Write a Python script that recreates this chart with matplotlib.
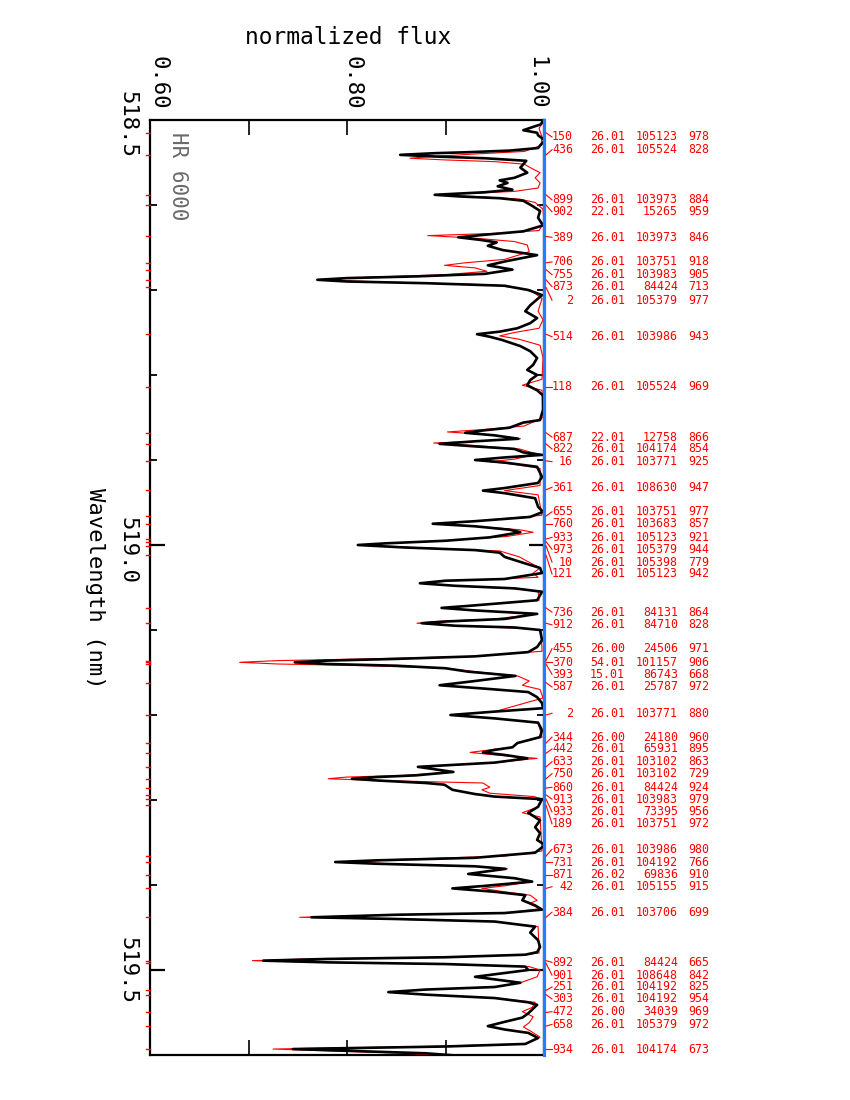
import matplotlib
matplotlib.use('Agg')
import matplotlib.pyplot as plt
from matplotlib.lines import Line2D
from matplotlib.transforms import blended_transform_factory

# ---------------- data ----------------
obs_wl = [518.500, 518.505, 518.512, 518.515, 518.518, 518.524, 518.530, 518.533, 518.536, 518.538,
          518.539, 518.541, 518.543, 518.545, 518.548, 518.556, 518.562, 518.568, 518.571, 518.574,
          518.578, 518.582, 518.585, 518.587, 518.588, 518.590, 518.592, 518.595, 518.601, 518.607,
          518.615, 518.624, 518.631, 518.635, 518.638, 518.641, 518.644, 518.648, 518.653, 518.659,
          518.666, 518.671, 518.676, 518.681, 518.684, 518.686, 518.688, 518.690, 518.692, 518.695,
          518.700, 518.706, 518.718, 518.725, 518.733, 518.739, 518.745, 518.749, 518.752, 518.755,
          518.759, 518.766, 518.772, 518.780, 518.788, 518.794, 518.800, 518.806, 518.812, 518.818,
          518.824, 518.841, 518.853, 518.856, 518.862, 518.865, 518.868, 518.871, 518.875, 518.878,
          518.881, 518.884, 518.887, 518.891, 518.894, 518.897, 518.900, 518.903, 518.908, 518.920,
          518.927, 518.933, 518.936, 518.939, 518.945, 518.955, 518.961, 518.967, 518.972, 518.975,
          518.978, 518.982, 518.985, 518.991, 518.995, 518.998, 519.000, 519.003, 519.006, 519.009,
          519.014, 519.021, 519.027, 519.033, 519.040, 519.042, 519.045, 519.048, 519.051, 519.055,
          519.065, 519.071, 519.074, 519.077, 519.081, 519.087, 519.090, 519.092, 519.095, 519.097,
          519.100, 519.112, 519.120, 519.126, 519.131, 519.134, 519.136, 519.138, 519.140, 519.142,
          519.145, 519.149, 519.154, 519.160, 519.165, 519.169, 519.173, 519.179, 519.186, 519.192,
          519.196, 519.200, 519.204, 519.209, 519.218, 519.226, 519.233, 519.238, 519.241, 519.244,
          519.247, 519.251, 519.256, 519.261, 519.264, 519.267, 519.271, 519.273, 519.275, 519.277,
          519.280, 519.282, 519.288, 519.293, 519.296, 519.299, 519.308, 519.315, 519.324, 519.332,
          519.339, 519.347, 519.353, 519.362, 519.368, 519.371, 519.373, 519.375, 519.378, 519.381,
          519.387, 519.392, 519.396, 519.401, 519.404, 519.408, 519.412, 519.418, 519.424, 519.429,
          519.433, 519.435, 519.438, 519.440, 519.443, 519.449, 519.456, 519.465, 519.473, 519.479,
          519.482, 519.485, 519.487, 519.489, 519.491, 519.493, 519.496, 519.500, 519.505, 519.508,
          519.511, 519.515, 519.520, 519.523, 519.526, 519.529, 519.533, 519.538, 519.541, 519.551,
          519.556, 519.561, 519.566, 519.570, 519.574, 519.580, 519.587, 519.590, 519.592, 519.593,
          519.595, 519.598, 519.604]
obs_flux = [0.999, 0.997, 0.979, 0.993, 0.994, 1.001, 0.996, 0.994, 0.965, 0.920,
            0.890, 0.854, 0.890, 0.940, 0.982, 0.976, 0.983, 0.970, 0.955, 0.963,
            0.953, 0.968, 0.940, 0.905, 0.889, 0.915, 0.955, 0.979, 0.988, 0.996,
            0.994, 0.999, 0.979, 0.940, 0.913, 0.935, 0.952, 0.943, 0.958, 0.993,
            0.962, 0.943, 0.968, 0.940, 0.870, 0.800, 0.770, 0.800, 0.880, 0.960,
            0.984, 0.998, 0.986, 0.981, 0.993, 0.986, 0.973, 0.955, 0.932, 0.945,
            0.958, 0.976, 0.986, 0.993, 0.989, 0.983, 0.993, 0.986, 0.983, 0.993,
            0.999, 0.999, 0.996, 0.979, 0.965, 0.940, 0.920, 0.950, 0.974, 0.930,
            0.894, 0.930, 0.970, 0.979, 0.998, 0.960, 0.930, 0.960, 0.993, 0.998,
            0.994, 0.960, 0.938, 0.960, 0.991, 0.994, 0.999, 0.986, 0.930, 0.887,
            0.930, 0.965, 0.976, 0.945, 0.900, 0.840, 0.811, 0.860, 0.930, 0.955,
            0.960, 0.979, 0.996, 0.998, 0.960, 0.900, 0.874, 0.910, 0.970, 0.998,
            0.993, 0.930, 0.896, 0.930, 0.993, 0.960, 0.900, 0.876, 0.910, 0.970,
            0.996, 0.998, 0.993, 0.984, 0.930, 0.850, 0.780, 0.747, 0.780, 0.850,
            0.900, 0.923, 0.971, 0.930, 0.894, 0.940, 0.984, 0.993, 0.998, 0.999,
            0.950, 0.905, 0.950, 0.994, 0.998, 0.996, 0.973, 0.968, 0.950, 0.938,
            0.960, 0.983, 0.950, 0.872, 0.890, 0.908, 0.870, 0.830, 0.805, 0.830,
            0.880, 0.899, 0.907, 0.930, 0.950, 0.998, 0.994, 0.984, 0.996, 0.991,
            0.996, 0.993, 1.001, 0.991, 0.930, 0.830, 0.788, 0.830, 0.930, 0.961,
            0.923, 0.970, 0.988, 0.940, 0.907, 0.950, 0.981, 0.978, 0.991, 0.998,
            0.960, 0.850, 0.764, 0.850, 0.950, 0.991, 0.986, 0.994, 0.996, 0.993,
            0.981, 0.900, 0.780, 0.715, 0.780, 0.900, 0.981, 0.984, 0.950, 0.930,
            0.950, 0.976, 0.950, 0.880, 0.842, 0.880, 0.950, 0.984, 0.993, 0.984,
            0.978, 0.960, 0.943, 0.960, 0.984, 0.994, 0.981, 0.900, 0.800, 0.745,
            0.800, 0.880, 0.950]

syn_wl = [518.500, 518.510, 518.520, 518.530, 518.537, 518.540, 518.543, 518.545, 518.547, 518.549,
          518.552, 518.556, 518.562, 518.568, 518.574, 518.580, 518.584, 518.586, 518.588, 518.590,
          518.593, 518.597, 518.605, 518.620, 518.630, 518.633, 518.636, 518.639, 518.643, 518.647,
          518.655, 518.664, 518.668, 518.671, 518.674, 518.678, 518.682, 518.685, 518.688, 518.691,
          518.694, 518.700, 518.710, 518.725, 518.735, 518.745, 518.750, 518.754, 518.758, 518.765,
          518.780, 518.805, 518.812, 518.818, 518.850, 518.860, 518.864, 518.867, 518.870, 518.875,
          518.878, 518.880, 518.883, 518.887, 518.893, 518.899, 518.902, 518.905, 518.910, 518.930,
          518.936, 518.941, 518.965, 518.972, 518.975, 518.978, 518.982, 518.985, 518.990, 518.995,
          518.998, 519.000, 519.003, 519.007, 519.014, 519.021, 519.027, 519.033, 519.038, 519.042,
          519.045, 519.048, 519.052, 519.055, 519.065, 519.071, 519.074, 519.077, 519.081, 519.087,
          519.090, 519.092, 519.095, 519.098, 519.100, 519.125, 519.131, 519.134, 519.136, 519.138,
          519.140, 519.142, 519.145, 519.149, 519.154, 519.160, 519.165, 519.170, 519.180, 519.196,
          519.200, 519.204, 519.209, 519.226, 519.233, 519.238, 519.241, 519.244, 519.247, 519.251,
          519.256, 519.261, 519.264, 519.267, 519.271, 519.273, 519.275, 519.277, 519.280, 519.285,
          519.288, 519.292, 519.296, 519.299, 519.308, 519.315, 519.320, 519.360, 519.366, 519.370,
          519.373, 519.376, 519.378, 519.381, 519.387, 519.392, 519.396, 519.401, 519.404, 519.408,
          519.412, 519.418, 519.422, 519.428, 519.433, 519.435, 519.438, 519.440, 519.443, 519.449,
          519.480, 519.482, 519.485, 519.487, 519.489, 519.491, 519.493, 519.496, 519.500, 519.508,
          519.515, 519.520, 519.523, 519.526, 519.529, 519.533, 519.538, 519.544, 519.549, 519.555,
          519.562, 519.567, 519.573, 519.579, 519.587, 519.590, 519.592, 519.593, 519.595, 519.598,
          519.604]
syn_flux = [1.000, 0.995, 0.998, 0.997, 0.980, 0.930, 0.885, 0.864, 0.900, 0.950,
            0.980, 0.986, 0.996, 0.991, 0.996, 0.994, 0.970, 0.930, 0.892, 0.930,
            0.975, 0.991, 0.999, 1.000, 0.995, 0.960, 0.882, 0.930, 0.970, 0.983,
            0.985, 0.960, 0.920, 0.899, 0.930, 0.942, 0.900, 0.820, 0.769, 0.850,
            0.950, 0.986, 0.998, 0.994, 0.999, 0.995, 0.970, 0.955, 0.975, 0.996,
            0.999, 0.998, 0.978, 0.998, 0.999, 0.980, 0.940, 0.902, 0.940, 0.976,
            0.930, 0.888, 0.930, 0.975, 0.993, 0.970, 0.945, 0.970, 0.996, 0.996,
            0.960, 0.994, 0.998, 0.930, 0.887, 0.930, 0.975, 0.989, 0.962, 0.900,
            0.840, 0.813, 0.870, 0.955, 0.975, 0.986, 0.996, 0.989, 0.994, 0.910,
            0.874, 0.910, 0.980, 0.994, 0.995, 0.930, 0.897, 0.930, 0.994, 0.950,
            0.890, 0.871, 0.910, 0.975, 0.997, 0.998, 0.930, 0.820, 0.730, 0.691,
            0.730, 0.820, 0.900, 0.930, 0.973, 0.985, 0.978, 0.996, 0.999, 0.950,
            0.905, 0.950, 0.994, 0.998, 0.973, 0.968, 0.945, 0.925, 0.950, 0.993,
            0.950, 0.874, 0.890, 0.907, 0.860, 0.800, 0.781, 0.830, 0.938, 0.945,
            0.937, 0.945, 0.990, 0.998, 0.994, 0.978, 0.996, 0.998, 0.960, 0.850,
            0.808, 0.860, 0.930, 0.963, 0.923, 0.970, 0.988, 0.960, 0.937, 0.960,
            0.986, 0.993, 0.985, 0.996, 0.960, 0.850, 0.752, 0.840, 0.950, 0.994,
            0.995, 0.981, 0.890, 0.760, 0.704, 0.770, 0.890, 0.985, 0.996, 0.993,
            0.976, 0.950, 0.880, 0.842, 0.880, 0.950, 0.991, 0.988, 0.978, 0.989,
            0.985, 0.979, 0.988, 0.996, 0.981, 0.880, 0.770, 0.725, 0.780, 0.860,
            0.950]

line_ids = [150, 436, 899, 902, 389, 706, 755, 873, 2, 514, 118, 687, 822, 16, 361, 655,
            760, 933, 973, 10, 121, 736, 912, 455, 370, 393, 587, 2, 344, 442, 633, 750,
            860, 913, 933, 189, 673, 731, 871, 42, 384, 892, 901, 251, 303, 472, 658, 934]
line_species = ['26.01', '26.01', '26.01', '22.01', '26.01', '26.01', '26.01', '26.01',
                '26.01', '26.01', '26.01', '22.01', '26.01', '26.01', '26.01', '26.01',
                '26.01', '26.01', '26.01', '26.01', '26.01', '26.01', '26.01', '26.00',
                '54.01', '15.01', '26.01', '26.01', '26.00', '26.01', '26.01', '26.01',
                '26.01', '26.01', '26.01', '26.01', '26.01', '26.01', '26.02', '26.01',
                '26.01', '26.01', '26.01', '26.01', '26.01', '26.00', '26.01', '26.01']
line_energy = [105123, 105524, 103973, 15265, 103973, 103751, 103983, 84424, 105379, 103986,
               105524, 12758, 104174, 103771, 108630, 103751, 103683, 105123, 105379, 105398,
               105123, 84131, 84710, 24506, 101157, 86743, 25787, 103771, 24180, 65931,
               103102, 103102, 84424, 103983, 73395, 103751, 103986, 104192, 69836, 105155,
               103706, 84424, 108648, 104192, 104192, 34039, 105379, 104174]
line_strength = [978, 828, 884, 959, 846, 918, 905, 713, 977, 943, 969, 866, 854, 925, 947, 977,
                 857, 921, 944, 779, 942, 864, 828, 971, 906, 668, 972, 880, 960, 895, 863, 729,
                 924, 979, 956, 972, 980, 766, 910, 915, 699, 665, 842, 825, 954, 969, 972, 673]
line_wl = [518.515, 518.541, 518.588, 518.600, 518.637, 518.668, 518.676, 518.688, 518.697,
           518.752, 518.814, 518.868, 518.881, 518.901, 518.935, 518.966, 518.975, 518.993,
           518.996, 519.001, 519.012, 519.074, 519.092, 519.136, 519.138, 519.140, 519.162,
           519.200, 519.233, 519.245, 519.261, 519.275, 519.286, 519.294, 519.299, 519.306,
           519.366, 519.373, 519.388, 519.404, 519.438, 519.489, 519.492, 519.524, 519.529,
           519.550, 519.566, 519.593]

# layout: wavelength at which each identification label is written
label_pos = [518.520, 518.535, 518.594, 518.608, 518.638, 518.667, 518.682, 518.696, 518.712,
             518.755, 518.814, 518.873, 518.887, 518.902, 518.932, 518.961, 518.975, 518.991,
             519.005, 519.020, 519.034, 519.079, 519.094, 519.122, 519.138, 519.152, 519.167,
             519.198, 519.226, 519.240, 519.255, 519.269, 519.285, 519.299, 519.314, 519.328,
             519.358, 519.373, 519.388, 519.402, 519.432, 519.491, 519.506, 519.520, 519.534,
             519.549, 519.564, 519.593]

W, H = 850, 1100
MONO = 'DejaVu Sans Mono'

fig = plt.figure(figsize=(W / 100, H / 100), dpi=100)
ax = fig.add_axes([150 / W, 1 - 1055 / H, 394 / W, 935 / H])

ax.plot(syn_flux, syn_wl, color='red', lw=0.8, zorder=3, solid_joinstyle='round')
ax.plot(obs_flux, obs_wl, color='black', lw=1.9, zorder=4, solid_joinstyle='round')
ax.axvline(1.0, color='#1f7fff', lw=2.3, zorder=6, clip_on=False)

ax.set_xlim(0.6, 1.0)
ax.set_ylim(519.6, 518.5)
ax.set_xticks([0.6, 0.7, 0.8, 0.9, 1.0])
ax.set_yticks([519.0, 519.5])
ax.set_yticks([518.6, 518.7, 518.8, 518.9, 519.1, 519.2, 519.3, 519.4], minor=True)
ax.tick_params(which='both', direction='in', top=True, right=True,
               labelleft=False, labelbottom=False, labeltop=False, labelright=False)
ax.tick_params(axis='x', length=11, width=1.2)
ax.tick_params(axis='y', which='major', length=11, width=1.6)
ax.tick_params(axis='y', which='minor', length=5, width=1.3)
for s in ax.spines.values():
    s.set_linewidth(1.6)

# axis texts
fig.text(348 / W, 1 - 38 / H, 'normalized flux', ha='center', va='center',
         fontsize=16.5, family=MONO)
for v, px in zip([0.60, 0.80, 1.00], [159, 352, 536]):
    fig.text(px / W, 1 - 83 / H, f'{v:.2f}', rotation=-90, ha='center', va='center',
             fontsize=16, family=MONO)
for v, py in zip([518.5, 519.0, 519.5], [124, 550, 970]):
    fig.text(127 / W, 1 - py / H, f'{v:.1f}', rotation=-90, ha='center', va='center',
             fontsize=16, family=MONO)
fig.text(95 / W, 1 - 588 / H, 'Wavelength (nm)', rotation=-90, ha='center', va='center',
         fontsize=16, family=MONO)
fig.text(178 / W, 1 - 132 / H, 'HR 6000', rotation=-90, ha='center', va='top',
         fontsize=15, family=MONO, color='#6a6a6a')

# line identifications
tr = blended_transform_factory(fig.transFigure, ax.transData)
for i in range(len(line_ids)):
    wl, lp = line_wl[i], label_pos[i]
    fig.add_artist(Line2D([546 / W, 552 / W], [wl, lp], transform=tr, color='red', lw=0.8))
    fig.add_artist(Line2D([145.5 / W, 149.5 / W], [wl, wl], transform=tr, color='red', lw=1.0))
    kw = dict(transform=tr, va='center', color='red', fontsize=8.4, family=MONO)
    fig.text(573 / W, lp, str(line_ids[i]), ha='right', **kw)
    fig.text(590 / W, lp, line_species[i], ha='left', **kw)
    fig.text(678 / W, lp, str(line_energy[i]), ha='right', **kw)
    fig.text(688 / W, lp, str(line_strength[i]), ha='left', **kw)

fig.savefig('out.png', dpi=100)
